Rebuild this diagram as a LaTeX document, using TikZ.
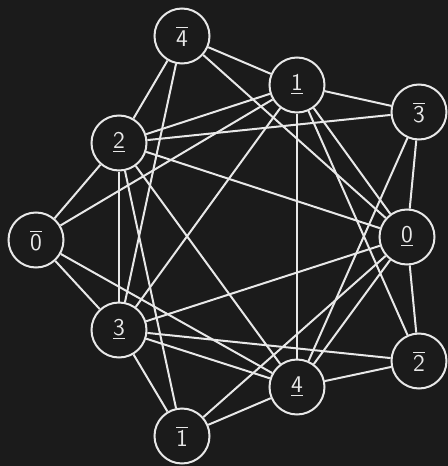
\documentclass[tikz,border=0pt]{standalone}
\usepackage{amsmath,amssymb}
\usepackage{xcolor}
\usepackage{tikz}
\usetikzlibrary{positioning}
\definecolor{bgdark}{RGB}{27,27,27}
\definecolor{lightline}{RGB}{232,232,232}

\begin{document}
\begin{tikzpicture}[x=0.5pt, y=-0.5pt,
    vertex/.style={circle, draw=lightline, line width=1pt, text=lightline,
        minimum size=27.5pt, inner sep=0pt, font=\fontsize{13}{15}\selectfont},
    edge/.style={lightline, line width=1pt}]
    % Background
    \fill[bgdark] (0,0) rectangle (448,466);
    \useasboundingbox (0,0) rectangle (448,466);
    % Vertices - barred
    \node[vertex] (bar4) at (182,36) {$\overline{\mathsf{4}}$};
    \node[vertex] (bar3) at (419,112) {$\overline{\mathsf{3}}$};
    \node[vertex] (bar0) at (36,240) {$\overline{\mathsf{0}}$};
    \node[vertex] (bar2) at (419,361) {$\overline{\mathsf{2}}$};
    \node[vertex] (bar1) at (182,436) {$\overline{\mathsf{1}}$};
    % Vertices - underlined
    \node[vertex] (und1) at (297,85) {$\underline{\mathsf{1}}$};
    \node[vertex] (und2) at (119,143) {$\underline{\mathsf{2}}$};
    \node[vertex] (und0) at (407,237) {$\underline{\mathsf{0}}$};
    \node[vertex] (und3) at (119,330) {$\underline{\mathsf{3}}$};
    \node[vertex] (und4) at (297,387) {$\underline{\mathsf{4}}$};
    % Edges
    \foreach \a/\b in {bar4/und1, bar4/und2, bar4/und3, bar4/und0,
        und1/bar3, und1/und2, und1/bar0, und1/und3, und1/und4, und1/und0, und1/bar2,
        bar3/und2, bar3/und0, bar3/und4,
        und2/und0, und2/bar0, und2/und3, und2/bar1, und2/und4,
        bar0/und3, bar0/und4,
        und0/und3, und0/bar2, und0/und4, und0/bar1,
        und3/bar2, und3/und4, und3/bar1,
        bar2/und4, und4/bar1}
        \draw[edge] (\a) -- (\b);
\end{tikzpicture}
\end{document}
